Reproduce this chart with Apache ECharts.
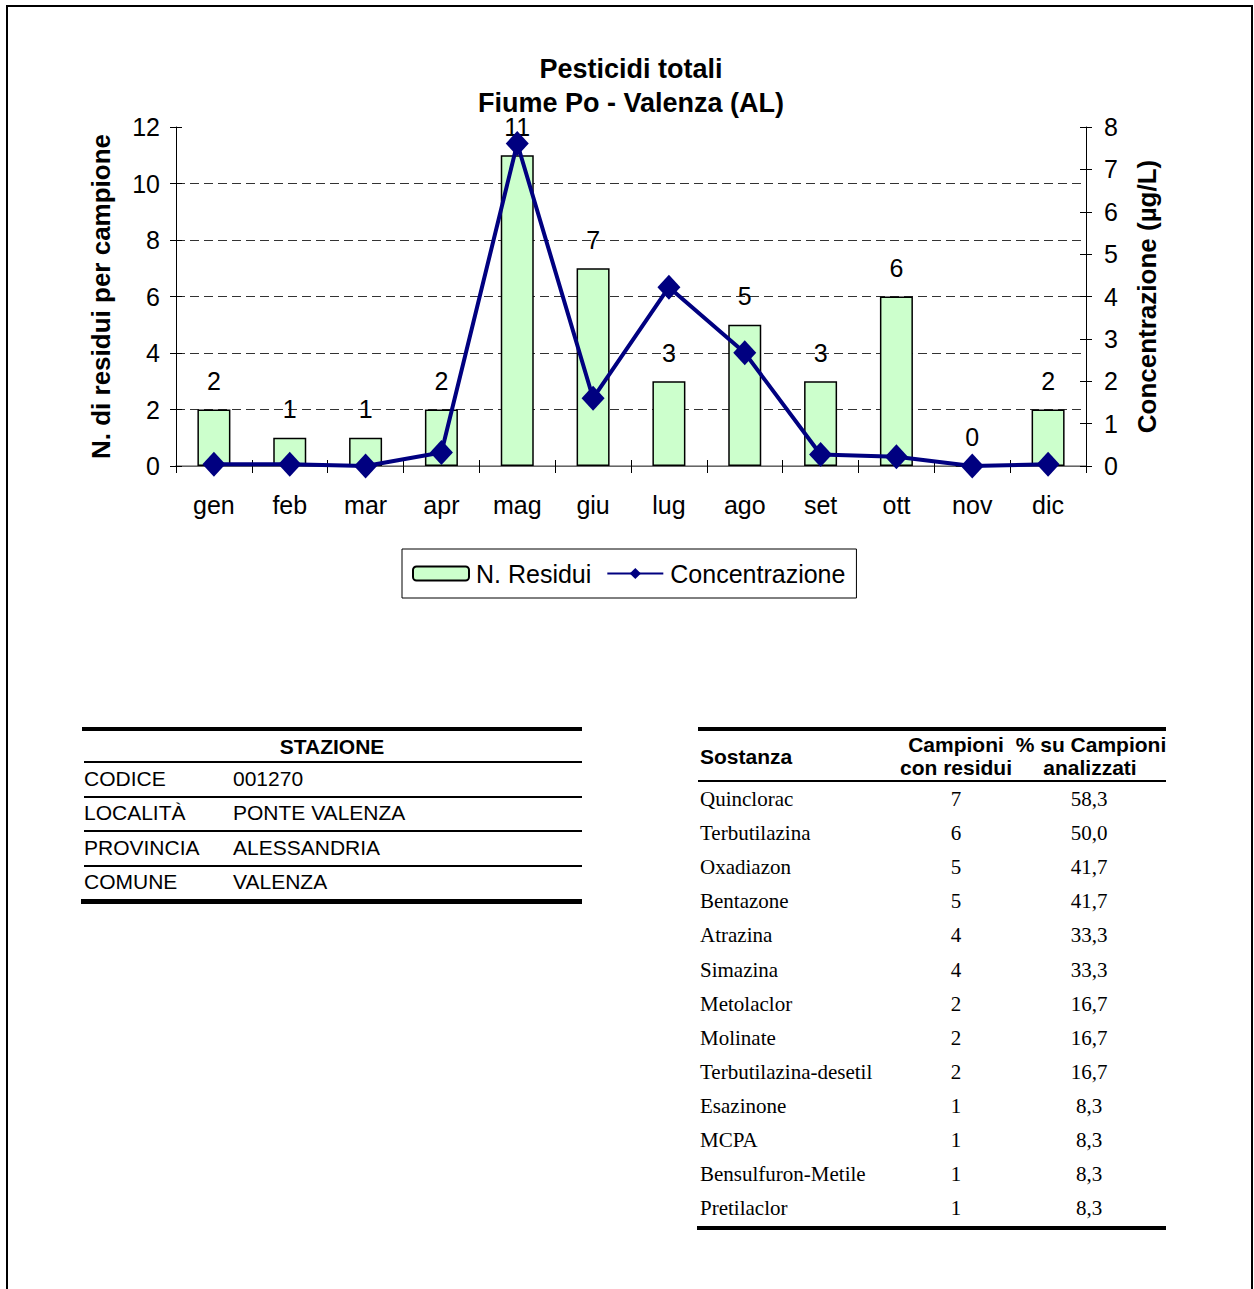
<!DOCTYPE html>
<html>
<head>
<meta charset="utf-8">
<script src="https://cdn.jsdelivr.net/npm/echarts@6/dist/echarts.min.js"></script>
<style>
  html, body { margin: 0; padding: 0; background: #fff; }
  #page { position: relative; width: 1254px; height: 1289px; overflow: hidden; }
  #frame { position: absolute; left: 6px; top: 5px; width: 1243px; height: 1400px; border: 2px solid #000; }
  #chart { position: absolute; left: 0; top: 0; width: 1254px; height: 1289px; }
  .t { position: absolute; white-space: nowrap; color: #000; }
  .sans { font-family: "Liberation Sans", Arial, sans-serif; font-size: 21px; }
  .serif { font-family: "Liberation Serif", "Times New Roman", serif; font-size: 21px; }
  .rule { position: absolute; background: #000; }
</style>
</head>
<body>
<div id="page">
  <div id="frame"></div>
  <div id="chart"></div>
  <div id="tables"></div>
</div>
<script>
// ---- Chart data ----
const months = ['gen','feb','mar','apr','mag','giu','lug','ago','set','ott','nov','dic'];
const nResidui = [2, 1, 1, 2, 11, 7, 3, 5, 3, 6, 0, 2];
const concentrazione = [0.04, 0.04, 0.0, 0.32, 7.61, 1.6, 4.22, 2.67, 0.27, 0.22, 0.0, 0.04];
const leftTicks = [0, 2, 4, 6, 8, 10, 12];
const rightTicks = [0, 1, 2, 3, 4, 5, 6, 7, 8];
const titleLines = ['Pesticidi totali', 'Fiume Po - Valenza (AL)'];

// ---- Table data ----
const stazioneLabels = ['CODICE', 'LOCALITÀ', 'PROVINCIA', 'COMUNE'];
const stazioneValues = ['001270', 'PONTE VALENZA', 'ALESSANDRIA', 'VALENZA'];
const sostanze = ['Quinclorac','Terbutilazina','Oxadiazon','Bentazone','Atrazina','Simazina','Metolaclor','Molinate','Terbutilazina-desetil','Esazinone','MCPA','Bensulfuron-Metile','Pretilaclor'];
const campioniResidui = [7, 6, 5, 5, 4, 4, 2, 2, 2, 1, 1, 1, 1];
const percentuali = ['58,3','50,0','41,7','41,7','33,3','33,3','16,7','16,7','16,7','8,3','8,3','8,3','8,3'];

const FONT = '"Liberation Sans", Arial, sans-serif';
const chart = echarts.init(document.getElementById('chart'), null, { renderer: 'svg' });

const yMaxL = leftTicks[leftTicks.length - 1], yIntL = leftTicks[1] - leftTicks[0];
const yMaxR = rightTicks[rightTicks.length - 1], yIntR = rightTicks[1] - rightTicks[0];

chart.setOption({
  animation: false,
  backgroundColor: 'transparent',
  textStyle: { fontFamily: FONT },
  title: titleLines.map((t, i) => ({
    text: t, left: 631, top: 55.5 + 34 * i, textAlign: 'center', padding: 0,
    textStyle: { fontFamily: FONT, fontSize: 27, fontWeight: 'bold', color: '#000', lineHeight: 27 }
  })),
  grid: { left: 176, right: 168, top: 127, bottom: 823, containLabel: false },
  legend: {
    left: 402, top: 549,
    padding: [12, 11, 12, 10],
    borderColor: '#000', borderWidth: 1,
    itemWidth: 56, itemHeight: 14, itemGap: 15,
    textStyle: { fontFamily: FONT, fontSize: 25, color: '#000', padding: [0, 0, 0, 2] },
    data: ['N. Residui', 'Concentrazione']
  },
  xAxis: [
    { type: 'category', data: months, position: 'bottom', gridIndex: 0,
      axisLine: { show: true, lineStyle: { color: '#000', width: 1 } },
      axisTick: { show: true, inside: false, length: 7, lineStyle: { color: '#000' } },
      axisLabel: { fontFamily: FONT, fontSize: 25, color: '#000', margin: 26 },
      splitLine: { show: false } },
    { type: 'category', data: months, position: 'bottom', gridIndex: 0,
      axisLine: { show: false },
      axisTick: { show: true, inside: true, length: 6, lineStyle: { color: '#000' } },
      axisLabel: { show: false }, splitLine: { show: false } },
    { type: 'category', data: months, position: 'top', gridIndex: 0,
      axisLine: { show: true, lineStyle: { color: '#888', width: 1.5 } },
      axisTick: { show: false }, axisLabel: { show: false }, splitLine: { show: false } }
  ],
  yAxis: [
    { type: 'value', min: 0, max: yMaxL, interval: yIntL, position: 'left',
      name: 'N. di residui per campione', nameLocation: 'middle', nameRotate: 90, nameGap: 62,
      nameTextStyle: { fontFamily: FONT, fontSize: 26, fontWeight: 'bold', color: '#000' },
      axisLine: { show: true, lineStyle: { color: '#000', width: 1 } },
      axisTick: { show: true, inside: false, length: 6, lineStyle: { color: '#000' } },
      axisLabel: { fontFamily: FONT, fontSize: 25, color: '#000', margin: 16 },
      splitLine: { show: true, showMinLine: false, showMaxLine: false,
        lineStyle: { color: '#333', type: [9, 5], width: 1 } } },
    { type: 'value', min: 0, max: yMaxR, interval: yIntR, position: 'right',
      name: 'Concentrazione (µg/L)', nameLocation: 'middle', nameRotate: 90, nameGap: 48,
      nameTextStyle: { fontFamily: FONT, fontSize: 26, fontWeight: 'bold', color: '#000' },
      axisLine: { show: true, lineStyle: { color: '#000', width: 1 } },
      axisTick: { show: true, inside: false, length: 6, lineStyle: { color: '#000' } },
      axisLabel: { fontFamily: FONT, fontSize: 25, color: '#000', margin: 18 },
      splitLine: { show: false } },
    { type: 'value', min: 0, max: yMaxL, interval: yIntL, position: 'left',
      axisLine: { show: false },
      axisTick: { show: true, inside: true, length: 6, lineStyle: { color: '#000' } },
      axisLabel: { show: false }, splitLine: { show: false } },
    { type: 'value', min: 0, max: yMaxR, interval: yIntR, position: 'right',
      axisLine: { show: false },
      axisTick: { show: true, inside: true, length: 6, lineStyle: { color: '#000' } },
      axisLabel: { show: false }, splitLine: { show: false } }
  ],
  series: [
    { name: 'N. Residui', type: 'bar', data: nResidui, xAxisIndex: 0, yAxisIndex: 0,
      barWidth: 33,
      itemStyle: { color: '#CCFFCC', borderColor: '#000', borderWidth: 1.5 },
      label: { show: true, position: 'top', distance: 20, lineHeight: 17, fontFamily: FONT, fontSize: 25, color: '#000' },
      z: 2 },
    { name: 'Concentrazione', type: 'line', data: concentrazione, xAxisIndex: 0, yAxisIndex: 1,
      symbol: 'diamond', symbolSize: [23, 25],
      lineStyle: { color: '#000080', width: 4 },
      itemStyle: { color: '#000080', borderWidth: 0 },
      z: 3 }
  ]
});

// ---- Tables ----
const T = document.getElementById('tables');
function rule(x, y, w, h) {
  const d = document.createElement('div'); d.className = 'rule';
  d.style.left = x + 'px'; d.style.top = y + 'px'; d.style.width = w + 'px'; d.style.height = h + 'px';
  T.appendChild(d);
}
function text(str, cls, x, cy, align, bold) {
  const d = document.createElement('div'); d.className = 't ' + cls;
  d.textContent = str;
  d.style.top = (cy - 12) + 'px'; d.style.lineHeight = '24px'; d.style.height = '24px';
  if (bold) d.style.fontWeight = 'bold';
  if (align === 'center') { d.style.left = (x - 200) + 'px'; d.style.width = '400px'; d.style.textAlign = 'center'; }
  else { d.style.left = x + 'px'; }
  T.appendChild(d);
}
// Stazione table
rule(82, 727, 500, 4);
text('STAZIONE', 'sans', 332, 747, 'center', true);
rule(84, 761, 498, 1.5);
const stRowY = [779, 813, 848, 882];
const stLineY = [796, 830, 865];
stazioneLabels.forEach((lab, i) => {
  text(lab, 'sans', 84, stRowY[i], 'left', false);
  text(stazioneValues[i], 'sans', 233, stRowY[i], 'left', false);
});
stLineY.forEach(y => rule(84, y, 498, 1.5));
rule(81, 899, 501, 4.5);

// Sostanze table
rule(698, 727, 468, 4);
text('Sostanza', 'sans', 700, 757, 'left', true);
text('Campioni', 'sans', 956, 745, 'center', true);
text('con residui', 'sans', 956, 768, 'center', true);
text('% su Campioni', 'sans', 1091, 745, 'center', true);
text('analizzati', 'sans', 1090, 768, 'center', true);
rule(698, 780, 468, 2);
sostanze.forEach((s, i) => {
  const cy = 799 + 34.1 * i;
  text(s, 'serif', 700, cy, 'left', false);
  text(String(campioniResidui[i]), 'serif', 956, cy, 'center', false);
  text(percentuali[i], 'serif', 1089, cy, 'center', false);
});
rule(697, 1226, 469, 4);
</script>
</body>
</html>
